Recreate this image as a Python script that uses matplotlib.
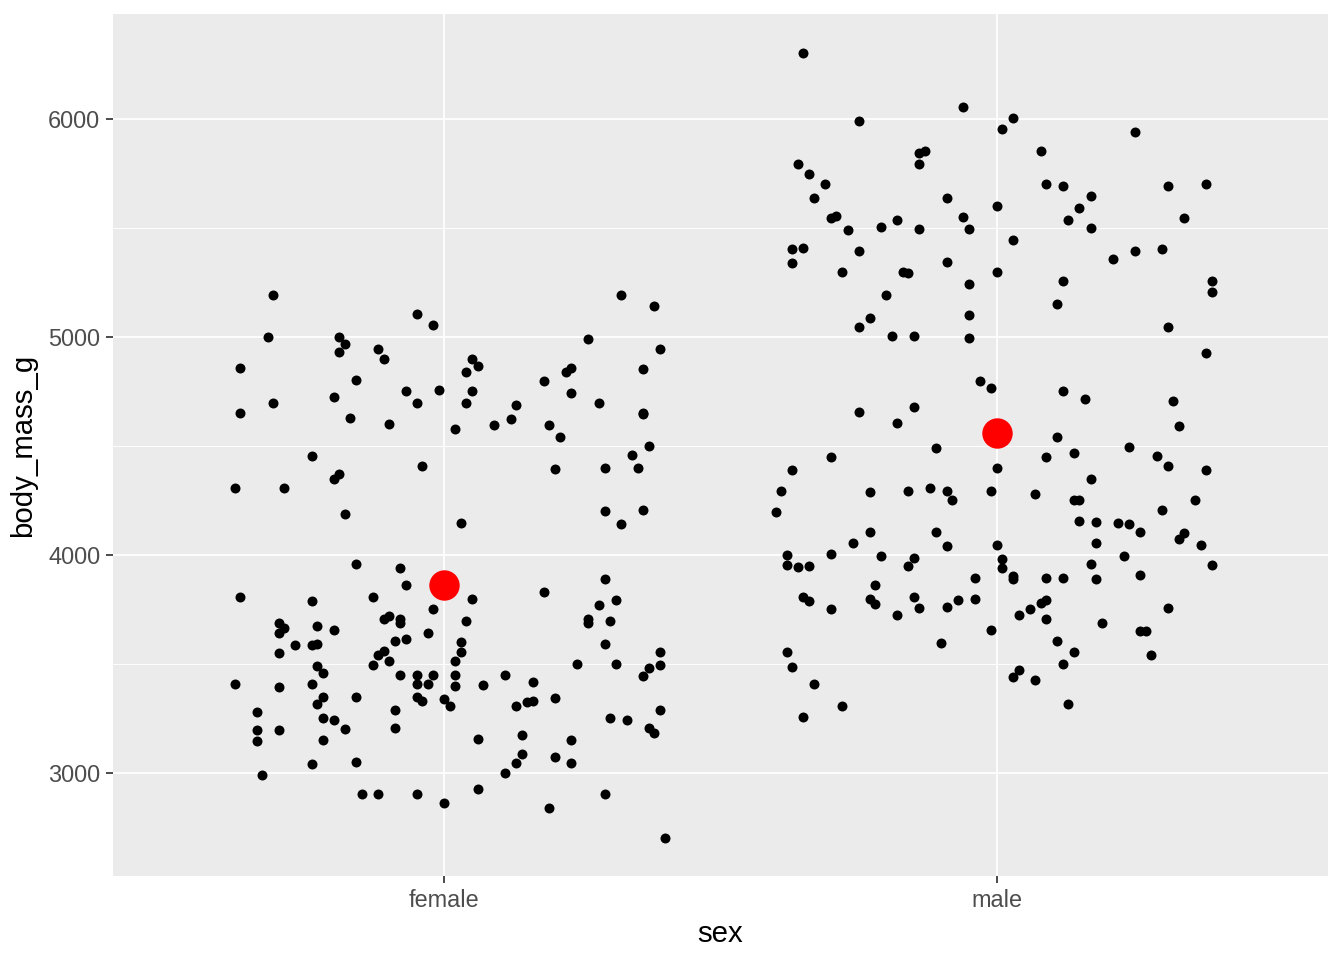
import numpy as np
import matplotlib as mpl
mpl.use('agg')
import matplotlib.pyplot as plt

# body mass (g) and horizontal jitter offset
female_mass = [5195, 5105, 5055, 5195, 5140, 4860, 4650, 5000, 4695, 4305,
               4305, 5000, 4970, 4930, 4945, 4900, 4805, 4725, 4630, 4600,
               4750, 4695, 4755, 4410, 4455, 4370, 4350, 4190, 4900, 4865,
               4840, 4750, 4695, 4580, 4595, 4625, 4690, 4800, 4595, 4540,
               4840, 4860, 4745, 4990, 4695, 4855, 4645, 4650, 4500, 4460,
               4400, 4400, 4395, 4945, 4200, 4205, 4140, 4145,
               3960, 3940, 3860, 3805, 3790, 3805, 3750, 3690, 3665, 3640,
               3675, 3655, 3705, 3720, 3705, 3690, 3640, 3615, 3605, 3585,
               3585, 3590, 3550, 3560, 3540, 3515, 3495, 3490, 3460, 3450,
               3450, 3450,
               3890, 3800, 3830, 3770, 3795, 3695, 3690, 3705, 3695, 3600,
               3555, 3590, 3555, 3515, 3500, 3500, 3495, 3480, 3450, 3450,
               3445,
               3410, 3395, 3410, 3410, 3410, 3350, 3315, 3350, 3350, 3330,
               3340, 3280, 3290, 3250, 3245, 3200, 3195, 3195, 3205, 3145,
               3150, 3040, 3050, 2990, 2905, 2905, 2905, 2860,
               3400, 3405, 3415, 3305, 3305, 3325, 3330, 3345, 3250, 3245,
               3290, 3205, 3185, 3155, 3175, 3150, 3085, 3075, 3045, 3045,
               3000, 2925, 2905, 2840, 2700]
female_jit = [-0.31, -0.05, -0.02, 0.32, 0.38, -0.37, -0.37, -0.32, -0.31, -0.38,
              -0.29, -0.19, -0.18, -0.19, -0.12, -0.11, -0.16, -0.20, -0.17, -0.10,
              -0.07, -0.05, -0.01, -0.04, -0.24, -0.19, -0.20, -0.18, 0.05, 0.06,
              0.04, 0.05, 0.04, 0.02, 0.09, 0.12, 0.13, 0.18, 0.19, 0.21,
              0.22, 0.23, 0.23, 0.26, 0.28, 0.36, 0.36, 0.36, 0.37, 0.34,
              0.35, 0.29, 0.20, 0.39, 0.29, 0.36, 0.32, 0.03,
              -0.16, -0.08, -0.07, -0.37, -0.24, -0.13, -0.02, -0.30, -0.29, -0.30,
              -0.23, -0.20, -0.11, -0.10, -0.08, -0.08, -0.03, -0.07, -0.09, -0.27,
              -0.24, -0.23, -0.30, -0.11, -0.12, -0.10, -0.13, -0.23, -0.22, -0.08,
              -0.05, -0.02,
              0.29, 0.05, 0.18, 0.28, 0.31, 0.04, 0.26, 0.26, 0.30, 0.03,
              0.03, 0.29, 0.39, 0.02, 0.24, 0.31, 0.39, 0.37, 0.02, 0.11,
              0.36,
              -0.38, -0.30, -0.24, -0.05, -0.03, -0.22, -0.23, -0.16, -0.05, -0.04,
              0.00, -0.34, -0.09, -0.22, -0.20, -0.18, -0.34, -0.30, -0.09, -0.34,
              -0.22, -0.24, -0.16, -0.33, -0.15, -0.12, -0.05, 0.00,
              0.02, 0.07, 0.16, 0.01, 0.13, 0.15, 0.16, 0.20, 0.30, 0.33,
              0.39, 0.37, 0.38, 0.06, 0.14, 0.23, 0.14, 0.20, 0.23, 0.13,
              0.11, 0.06, 0.29, 0.19, 0.40]

male_mass = [6305, 6055, 5990, 5955, 5795, 5750, 5845, 5855, 5795, 5700,
             5640, 5640, 5600, 5545, 5555, 5490, 5505, 5535, 5495, 5550,
             5495, 5405, 5410, 5340, 5395, 5345, 5300, 5300, 5295, 5300,
             6005, 5940, 5855, 5700, 5695, 5695, 5700, 5645, 5590, 5535,
             5500, 5545, 5445, 5360, 5395, 5405, 5255, 5255, 5205,
             5245, 5195, 5085, 5045, 5100, 5005, 5005, 4995, 4800, 4765,
             4655, 4680, 4605, 4490, 4450, 4390, 4400, 4295, 4290, 4295,
             4305, 4295, 4295, 4250,
             5150, 5045, 4925, 4750, 4715, 4705, 4590, 4540, 4470, 4450,
             4495, 4455, 4410, 4390, 4350, 4280, 4250, 4250, 4250,
             4195, 4105, 4105, 4055, 4040, 4045, 4000, 4005, 3995, 3985,
             3950, 3955, 3945, 3950, 3895, 3860, 3805, 3790, 3800, 3775,
             3805, 3755, 3795, 3760, 3800, 3750, 3725, 3655, 3595, 3555,
             3485, 3410, 3305, 3255,
             4205, 4155, 4150, 4145, 4140, 4105, 4100, 4075, 4045, 4055,
             3995, 3980, 3940, 3960, 3955, 3910, 3890, 3905, 3895, 3895,
             3890, 3795, 3780, 3750, 3725, 3755, 3705, 3690, 3650, 3650,
             3605, 3555, 3540, 3500, 3470, 3440, 3425, 3315]
male_jit = [-0.35, -0.06, -0.25, 0.01, -0.36, -0.34, -0.14, -0.13, -0.14, -0.31,
            -0.33, -0.09, 0.00, -0.30, -0.29, -0.27, -0.21, -0.18, -0.14, -0.06,
            -0.05, -0.37, -0.35, -0.37, -0.25, -0.09, -0.28, -0.17, -0.16, 0.00,
            0.03, 0.25, 0.08, 0.09, 0.12, 0.31, 0.38, 0.17, 0.15, 0.13,
            0.17, 0.34, 0.03, 0.21, 0.25, 0.30, 0.12, 0.39, 0.39,
            -0.05, -0.20, -0.23, -0.25, -0.05, -0.19, -0.15, -0.05, -0.03, -0.01,
            -0.25, -0.15, -0.18, -0.11, -0.30, -0.37, 0.00, -0.39, -0.23, -0.16,
            -0.12, -0.09, -0.01, -0.08,
            0.11, 0.31, 0.38, 0.12, 0.16, 0.32, 0.33, 0.11, 0.14, 0.09,
            0.24, 0.29, 0.31, 0.38, 0.17, 0.07, 0.14, 0.15, 0.36,
            -0.40, -0.23, -0.11, -0.26, -0.09, 0.00, -0.38, -0.30, -0.21, -0.15,
            -0.16, -0.38, -0.36, -0.34, -0.04, -0.22, -0.35, -0.34, -0.23, -0.22,
            -0.15, -0.14, -0.07, -0.09, -0.04, -0.30, -0.18, -0.01, -0.10, -0.38,
            -0.37, -0.33, -0.28, -0.35,
            0.30, 0.15, 0.18, 0.22, 0.24, 0.26, 0.34, 0.33, 0.37, 0.18,
            0.23, 0.01, 0.01, 0.17, 0.39, 0.26, 0.03, 0.03, 0.09, 0.12,
            0.18, 0.09, 0.08, 0.06, 0.04, 0.31, 0.09, 0.19, 0.26, 0.27,
            0.11, 0.14, 0.28, 0.12, 0.04, 0.03, 0.07, 0.13]

sexes = ['female', 'male']

plt.rcParams['font.family'] = ['Liberation Sans', 'DejaVu Sans']

fig = plt.figure(figsize=(7, 5), dpi=192)
ax = fig.add_axes([113/1344, 84/960, 1215/1344, 862/960])
ax.set_facecolor('#EBEBEB')

groups = [(female_mass, female_jit), (male_mass, male_jit)]
for i, (m, j) in enumerate(groups):
    pos = i + 1
    ax.scatter(pos + np.array(j), m, s=14, color='black', linewidths=0, zorder=3)
for i, (m, j) in enumerate(groups):
    ax.scatter(i + 1, np.mean(m), s=130, color='red', linewidths=0, zorder=4)

ax.set_xlim(0.4, 2.6)
ax.set_ylim(2527, 6482)
ax.set_xticks([1, 2])
ax.set_xticklabels(sexes)
ax.set_yticks([3000, 4000, 5000, 6000])
ax.set_yticks([3500, 4500, 5500], minor=True)
ax.grid(which='major', color='white', linewidth=0.65, zorder=0)
ax.grid(which='minor', axis='y', color='white', linewidth=0.35, zorder=0)
ax.set_axisbelow(True)
for s in ax.spines.values():
    s.set_visible(False)
ax.tick_params(which='major', length=2.75, width=0.65, color='#333333',
               labelsize=8.8, labelcolor='#4D4D4D', pad=2)
ax.tick_params(which='minor', length=0)
ax.set_xlabel('sex', fontsize=11, labelpad=3)
ax.set_ylabel('body_mass_g', fontsize=11, labelpad=4)

fig.savefig('out.png', dpi=192)
